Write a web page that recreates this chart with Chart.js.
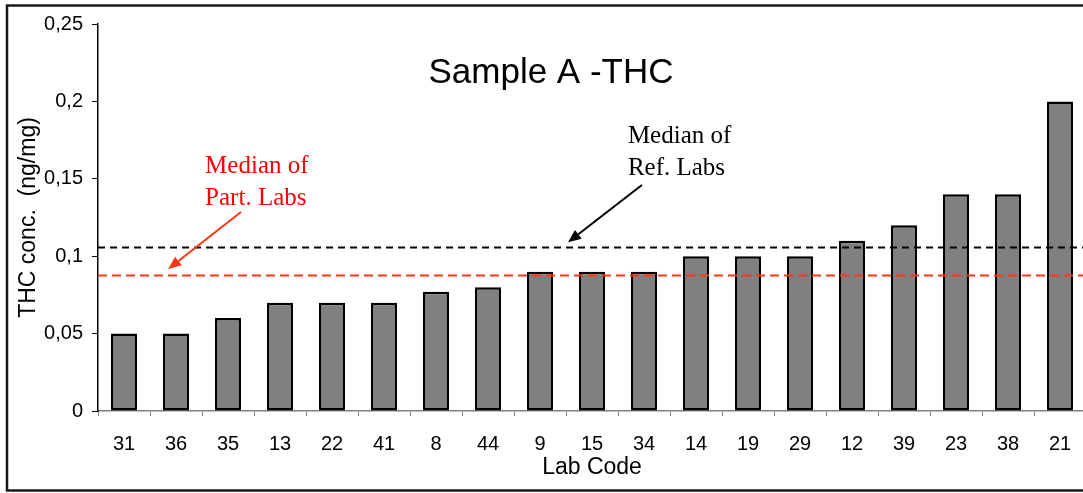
<!DOCTYPE html>
<html>
<head>
<meta charset="utf-8">
<title>Sample A - THC</title>
<script src="https://cdn.jsdelivr.net/npm/chart.js@4/dist/chart.umd.min.js"></script>
<style>
  html, body { margin: 0; padding: 0; background: #fff; overflow: hidden; }
  #wrap { width: 1083px; height: 493px; overflow: hidden; }
</style>
</head>
<body>
<div id="wrap"><canvas id="chart" width="1100" height="493"></canvas></div>
<script>
// Data
const labCodes = ['31', '36', '35', '13', '22', '41', '8', '44', '9', '15', '34', '14', '19', '29', '12', '39', '23', '38', '21'];
const thcValues = [0.05, 0.05, 0.06, 0.07, 0.07, 0.07, 0.077, 0.08, 0.09, 0.09, 0.09, 0.1, 0.1, 0.1, 0.11, 0.12, 0.14, 0.14, 0.2];
const yTicks = [0, 0.05, 0.1, 0.15, 0.2, 0.25];

const refMedian = 0.106;   // Median of Ref. Labs
const partMedian = 0.0877; // Median of Part. Labs

// Annotation anchors in data units (category index, value)
const refNote = { lines: ['Median of', 'Ref. Labs'], at: [9.69, 0.1731], tail: [9.96, 0.146], tip: [8.54, 0.109] };
const partNote = { lines: ['Median of', 'Part. Labs'], at: [1.56, 0.1537], tail: [2.25, 0.1286], tip: [0.85, 0.0917] };

function fmt(v) {
    return String(Number(v.toFixed(2))).replace('.', ',');
}

function drawArrow(ctx, x1, y1, x2, y2, color) {
    const ang = Math.atan2(y2 - y1, x2 - x1);
    const head = 13, half = 5.5;
    ctx.strokeStyle = color;
    ctx.fillStyle = color;
    ctx.lineWidth = 2;
    ctx.setLineDash([]);
    ctx.beginPath();
    ctx.moveTo(x1, y1);
    ctx.lineTo(x2 - Math.cos(ang) * head, y2 - Math.sin(ang) * head);
    ctx.stroke();
    ctx.beginPath();
    ctx.moveTo(x2, y2);
    ctx.lineTo(x2 - Math.cos(ang) * head - Math.sin(ang) * half, y2 - Math.sin(ang) * head + Math.cos(ang) * half);
    ctx.lineTo(x2 - Math.cos(ang) * head + Math.sin(ang) * half, y2 - Math.sin(ang) * head - Math.cos(ang) * half);
    ctx.closePath();
    ctx.fill();
}

// Frame, title, median lines and notes
const extras = {
    id: 'extras',
    beforeDraw(chart) {
        const ctx = chart.ctx;
        ctx.save();
        ctx.fillStyle = '#fff';
        ctx.fillRect(0, 0, chart.width, chart.height);
        ctx.restore();
    },
    afterDatasetsDraw(chart) {
        const ctx = chart.ctx;
        const x = chart.scales.x, y = chart.scales.y;
        const area = chart.chartArea;
        ctx.save();

        // median lines
        ctx.lineWidth = 2;
        ctx.strokeStyle = '#000';
        ctx.setLineDash([7, 5]);
        let py = Math.round(y.getPixelForValue(refMedian)) + 0.5;
        ctx.beginPath(); ctx.moveTo(area.left, py); ctx.lineTo(area.right, py); ctx.stroke();
        ctx.strokeStyle = '#ff3514';
        ctx.setLineDash([9, 5]);
        py = Math.round(y.getPixelForValue(partMedian)) + 0.5;
        ctx.beginPath(); ctx.moveTo(area.left, py); ctx.lineTo(area.right, py); ctx.stroke();

        // notes
        const note = (n, textColor, arrowColor) => {
            ctx.font = '25px "Liberation Serif", "Times New Roman", serif';
            ctx.fillStyle = textColor;
            ctx.textAlign = 'left';
            ctx.textBaseline = 'alphabetic';
            const lx = x.getPixelForValue(n.at[0]);
            const ly = y.getPixelForValue(n.at[1]);
            n.lines.forEach((t, i) => ctx.fillText(t, lx, ly + i * 32));
            drawArrow(ctx,
                x.getPixelForValue(n.tail[0]), y.getPixelForValue(n.tail[1]),
                x.getPixelForValue(n.tip[0]), y.getPixelForValue(n.tip[1]), arrowColor);
        };
        note(refNote, '#000', '#000');
        note(partNote, '#ff0000', '#ff3514');

        // title
        ctx.font = '35px "Liberation Sans", Arial, sans-serif';
        ctx.fillStyle = '#000';
        ctx.textAlign = 'center';
        ctx.textBaseline = 'middle';
        ctx.fillText('Sample A -THC', 551, 73);

        // outer frame
        ctx.setLineDash([]);
        ctx.lineWidth = 2.5;
        ctx.strokeStyle = '#1a1a1a';
        ctx.strokeRect(7, 5.5, chart.width + 20, 485);
        ctx.restore();
    }
};

new Chart(document.getElementById('chart'), {
    type: 'bar',
    data: {
        labels: labCodes,
        datasets: [{
            label: 'THC',
            data: thcValues,
            backgroundColor: '#808080',
            borderColor: '#000',
            borderWidth: 2.5,
            borderSkipped: false,
            barPercentage: 0.5,
            categoryPercentage: 1
        }]
    },
    options: {
        responsive: false,
        animation: false,
        events: [],
        layout: { padding: { left: 0, top: 24, right: 14, bottom: 0 } },
        plugins: {
            legend: { display: false },
            tooltip: { enabled: false },
            title: { display: false }
        },
        scales: {
            x: {
                afterFit(scale) { scale.height = 82; },
                grid: {
                    display: true,
                    drawOnChartArea: false,
                    offset: true,
                    tickLength: 5,
                    color: '#808080',
                    lineWidth: 1
                },
                border: { display: true, color: '#808080', width: 1.5 },
                ticks: {
                    color: '#000',
                    padding: 16,
                    maxRotation: 0,
                    autoSkip: false,
                    font: { family: '"Liberation Sans", Arial, sans-serif', size: 20 }
                },
                title: {
                    display: true,
                    text: 'Lab Code',
                    color: '#000',
                    padding: { top: 0, bottom: 12 },
                    font: { family: '"Liberation Sans", Arial, sans-serif', size: 23 }
                }
            },
            y: {
                min: 0,
                max: 0.25,
                afterFit(scale) { scale.width = 98; },
                afterBuildTicks(scale) { scale.ticks = yTicks.map(v => ({ value: v })); },
                grid: {
                    display: true,
                    drawOnChartArea: false,
                    tickLength: 6,
                    color: '#000',
                    lineWidth: 1
                },
                border: { display: true, color: '#000', width: 1.5 },
                ticks: {
                    color: '#000',
                    padding: 9,
                    callback: v => fmt(v),
                    font: { family: '"Liberation Sans", Arial, sans-serif', size: 20 }
                },
                title: {
                    display: true,
                    text: 'THC conc.  (ng/mg)',
                    color: '#000',
                    padding: { top: 15, bottom: 0 },
                    font: { family: '"Liberation Sans", Arial, sans-serif', size: 23 }
                }
            }
        }
    },
    plugins: [extras]
});
</script>
</body>
</html>
